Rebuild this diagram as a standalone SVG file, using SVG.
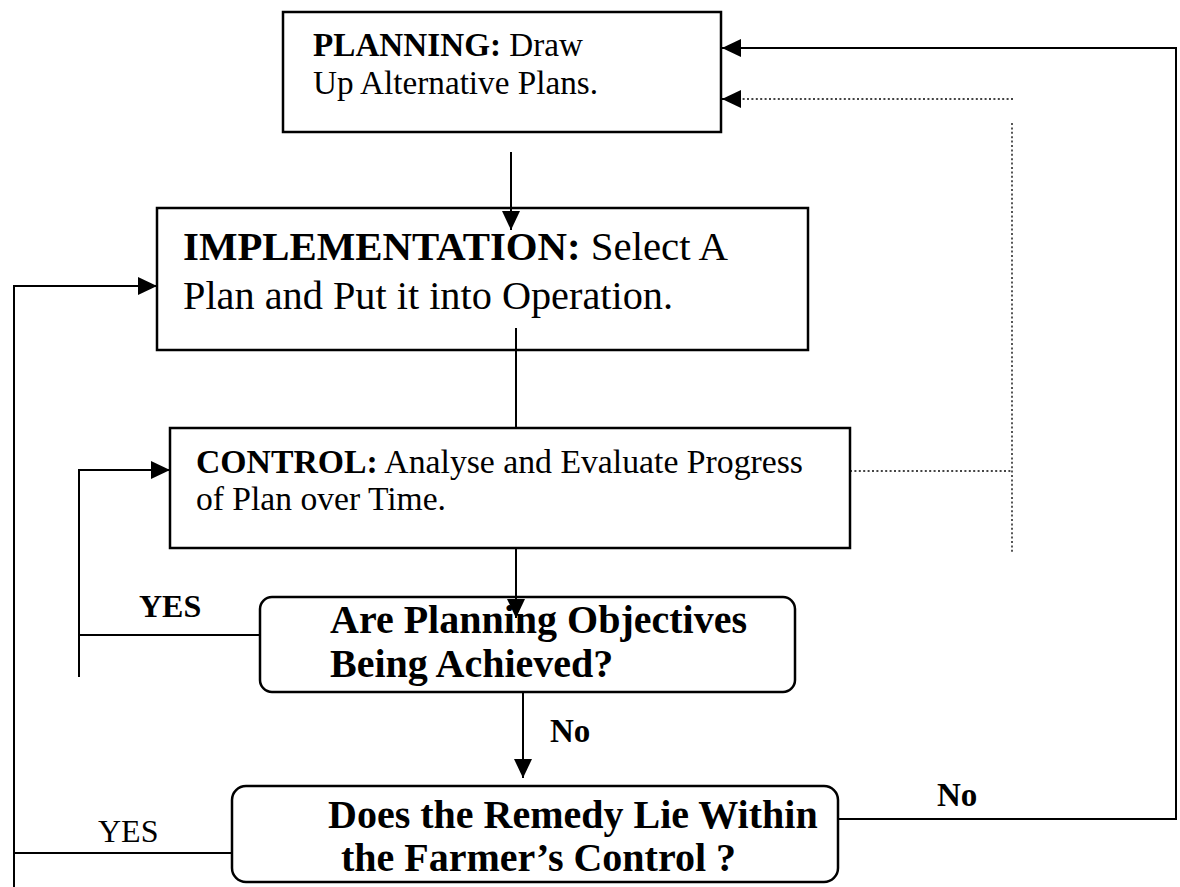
<svg xmlns="http://www.w3.org/2000/svg" width="1180" height="887" viewBox="0 0 1180 887">
<style>
text{font-family:"Liberation Serif","Times New Roman",serif;fill:#000}
.b{font-weight:bold}
.box{fill:#fff;stroke:#000;stroke-width:2.5}
.ln{fill:none;stroke:#000;stroke-width:2}
.dot{fill:none;stroke:#444;stroke-width:1.8;stroke-dasharray:2 2.4}
</style>
<defs>
<marker id="ah" markerUnits="userSpaceOnUse" markerWidth="20" markerHeight="20" refX="19" refY="9" orient="auto" viewBox="0 0 20 18">
<path d="M0,0 L19,9 L0,18 z" fill="#000"/>
</marker>
</defs>
<rect width="1180" height="887" fill="#fff"/>
<g id="connectors">
<path class="ln" d="M511,152 V230" marker-end="url(#ah)"/>
<path class="ln" d="M516,328 V428"/>
<path class="ln" d="M516,549 V618" marker-end="url(#ah)"/>
<path class="ln" d="M523,692 V778" marker-end="url(#ah)"/>
<path class="ln" d="M260,635 H79"/>
<path class="ln" d="M79,677 V470 H170" marker-end="url(#ah)"/>
<path class="ln" d="M232,853 H14"/>
<path class="ln" d="M14,887 V286 H157" marker-end="url(#ah)"/>
<path class="ln" d="M838,819 H1176 V48 H722" marker-end="url(#ah)"/>
<path class="dot" d="M850,471 H1012"/>
<path class="dot" d="M1012,123 V552"/>
<path class="dot" d="M1013,99 H740"/>
<path class="ln" d="M740,99 H722" stroke-width="1" marker-end="url(#ah)"/>
</g>
<g id="planning">
<rect class="box" x="283" y="12" width="438" height="120" stroke-width="3"/>
<text x="313" y="56" font-size="33" textLength="270" lengthAdjust="spacingAndGlyphs"><tspan class="b">PLANNING:</tspan> Draw</text>
<text x="313" y="94" font-size="33" textLength="285" lengthAdjust="spacingAndGlyphs">Up Alternative Plans.</text>
</g>
<g id="implementation">
<rect class="box" x="157" y="208" width="651" height="142" fill-opacity="0"/>
<text x="183" y="260" font-size="40" textLength="545" lengthAdjust="spacingAndGlyphs"><tspan class="b">IMPLEMENTATION:</tspan> Select A</text>
<text x="183" y="309" font-size="40" textLength="490" lengthAdjust="spacingAndGlyphs">Plan and Put it into Operation.</text>
</g>
<g id="control">
<rect class="box" x="170" y="428" width="680" height="120"/>
<text x="196" y="473" font-size="33" textLength="607" lengthAdjust="spacingAndGlyphs"><tspan class="b">CONTROL:</tspan> Analyse and Evaluate Progress</text>
<text x="196" y="510" font-size="33" textLength="250" lengthAdjust="spacingAndGlyphs">of Plan over Time.</text>
</g>
<g id="objectives">
<rect class="box" x="260" y="597" width="535" height="95" rx="12" stroke-width="2" fill-opacity="0"/>
<text class="b" x="330" y="633" font-size="40">Are Planning Objectives</text>
<text class="b" x="330" y="677" font-size="40">Being Achieved?</text>
</g>
<g id="remedy">
<rect class="box" x="232" y="786" width="606" height="96" rx="14" stroke-width="2"/>
<text class="b" x="328" y="828" font-size="40">Does the Remedy Lie Within</text>
<text class="b" x="341" y="871" font-size="40">the Farmer’s Control ?</text>
</g>
<g id="labels">
<text class="b" x="139" y="617" font-size="32">YES</text>
<text class="b" x="550" y="742" font-size="33">No</text>
<text class="b" x="937" y="806" font-size="33">No</text>
<text x="98" y="842" font-size="32">YES</text>
</g>
</svg>
